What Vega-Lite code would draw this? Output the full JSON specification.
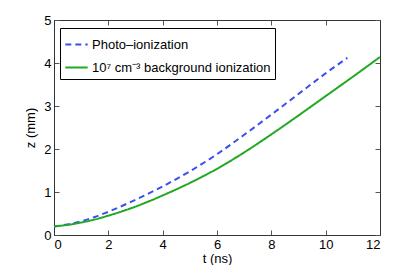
{
  "$schema": "https://vega.github.io/schema/vega-lite/v6.json",
  "autosize": "none",
  "width": 326,
  "height": 215,
  "padding": {"left": 54, "top": 20, "right": 35, "bottom": 30},
  "background": "white",
  "config": {
    "font": "Liberation Sans",
    "view": {"stroke": "#333333", "strokeWidth": 1},
    "axis": {"grid": false, "domainColor": "#333333", "tickColor": "#555555", "labelColor": "black", "titleColor": "black", "labelFontSize": 13, "titleFontSize": 13, "titleFontWeight": "normal", "labelFont": "Liberation Sans", "titleFont": "Liberation Sans"},
    "legend": {"labelFont": "Liberation Sans", "labelFontSize": 13, "labelColor": "black", "labelLimit": 0}
  },
  "data": {"values": [
    {"t": 0, "z": 0.2, "s": "Photo–ionization"},
    {"t": 0.5, "z": 0.245, "s": "Photo–ionization"},
    {"t": 1, "z": 0.32, "s": "Photo–ionization"},
    {"t": 1.5, "z": 0.42, "s": "Photo–ionization"},
    {"t": 2, "z": 0.54, "s": "Photo–ionization"},
    {"t": 2.5, "z": 0.675, "s": "Photo–ionization"},
    {"t": 3, "z": 0.82, "s": "Photo–ionization"},
    {"t": 4, "z": 1.13, "s": "Photo–ionization"},
    {"t": 5, "z": 1.48, "s": "Photo–ionization"},
    {"t": 6, "z": 1.88, "s": "Photo–ionization"},
    {"t": 7, "z": 2.33, "s": "Photo–ionization"},
    {"t": 8, "z": 2.8, "s": "Photo–ionization"},
    {"t": 9, "z": 3.28, "s": "Photo–ionization"},
    {"t": 10, "z": 3.76, "s": "Photo–ionization"},
    {"t": 10.8, "z": 4.12, "s": "Photo–ionization"},
    {"t": 0, "z": 0.2, "s": "10⁷ cm⁻³ background ionization"},
    {"t": 0.5, "z": 0.235, "s": "10⁷ cm⁻³ background ionization"},
    {"t": 1, "z": 0.29, "s": "10⁷ cm⁻³ background ionization"},
    {"t": 1.5, "z": 0.36, "s": "10⁷ cm⁻³ background ionization"},
    {"t": 2, "z": 0.45, "s": "10⁷ cm⁻³ background ionization"},
    {"t": 2.5, "z": 0.55, "s": "10⁷ cm⁻³ background ionization"},
    {"t": 3, "z": 0.66, "s": "10⁷ cm⁻³ background ionization"},
    {"t": 3.5, "z": 0.785, "s": "10⁷ cm⁻³ background ionization"},
    {"t": 4, "z": 0.92, "s": "10⁷ cm⁻³ background ionization"},
    {"t": 5, "z": 1.21, "s": "10⁷ cm⁻³ background ionization"},
    {"t": 6, "z": 1.54, "s": "10⁷ cm⁻³ background ionization"},
    {"t": 7, "z": 1.92, "s": "10⁷ cm⁻³ background ionization"},
    {"t": 8, "z": 2.34, "s": "10⁷ cm⁻³ background ionization"},
    {"t": 9, "z": 2.78, "s": "10⁷ cm⁻³ background ionization"},
    {"t": 10, "z": 3.23, "s": "10⁷ cm⁻³ background ionization"},
    {"t": 11, "z": 3.68, "s": "10⁷ cm⁻³ background ionization"},
    {"t": 12, "z": 4.14, "s": "10⁷ cm⁻³ background ionization"}
  ]},
  "layer": [
    {
      "mark": {"type": "line", "strokeWidth": 2, "interpolate": "monotone"},
      "encoding": {
        "x": {"field": "t", "type": "quantitative", "scale": {"domain": [0, 12], "nice": false, "zero": false}, "axis": {"title": "t (ns)", "values": [0,2,4,6,8,10,12], "tickSize": -5, "labelPadding": 8, "titlePadding": 1}},
        "y": {"field": "z", "type": "quantitative", "scale": {"domain": [0, 5], "nice": false}, "axis": {"title": "z (mm)", "values": [0,1,2,3,4,5], "tickSize": -5, "labelPadding": 8, "titlePadding": 6}},
        "color": {"field": "s", "type": "nominal", "scale": {"domain": ["Photo–ionization", "10⁷ cm⁻³ background ionization"], "range": ["#3b4ff0", "#22a822"]},
          "legend": {"title": null, "orient": "none", "legendX": 6, "legendY": 8, "strokeColor": "black", "fillColor": "white", "padding": 4, "symbolType": "stroke", "symbolSize": 500, "symbolStrokeWidth": 2, "rowPadding": 3, "labelOffset": 3}},
        "strokeDash": {"field": "s", "type": "nominal", "scale": {"domain": ["Photo–ionization", "10⁷ cm⁻³ background ionization"], "range": [[6, 4], [1, 0]]}, "legend": null}
      }
    },
    {
      "mark": {"type": "line", "opacity": 0},
      "encoding": {
        "x": {"field": "t", "type": "quantitative", "axis": {"orient": "top", "title": null, "labels": false, "values": [0,2,4,6,8,10,12], "tickSize": -5}},
        "y": {"field": "z", "type": "quantitative", "axis": {"orient": "right", "title": null, "labels": false, "values": [0,1,2,3,4,5], "tickSize": -5}}
      }
    }
  ],
  "resolve": {"axis": {"x": "independent", "y": "independent"}}
}
